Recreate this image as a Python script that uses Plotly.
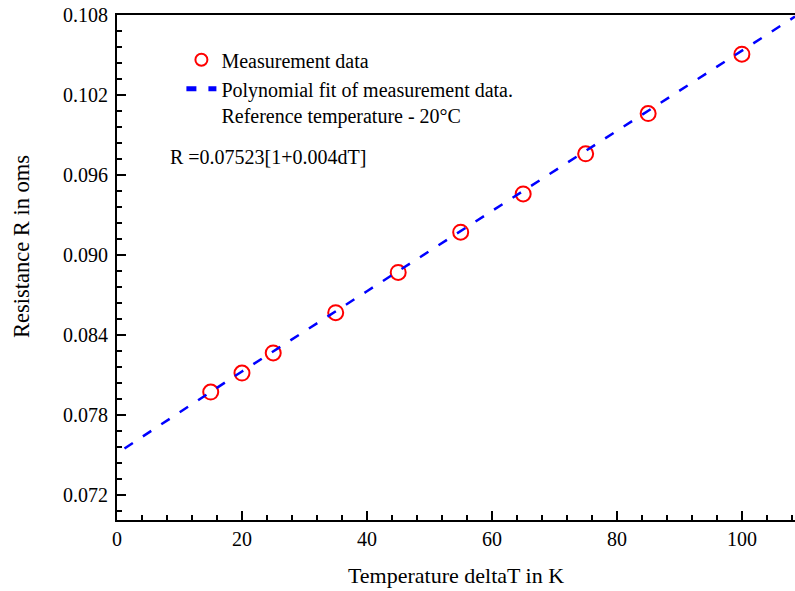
import plotly.graph_objects as go

dT_meas = [15, 20, 25, 35, 45, 55, 65, 75, 85, 100]
R_meas = [0.07970, 0.08113, 0.08264, 0.08566, 0.08868, 0.09170, 0.09457, 0.09758, 0.10060, 0.10506]

# Polynomial fit line
dT_fit = [1.2, 20, 40, 60, 80, 100, 108.5]
R_fit = [0.07547, 0.08125, 0.08727, 0.09329, 0.09930, 0.10532, 0.10788]

x_ticks = [0, 20, 40, 60, 80, 100]
y_ticks = [0.072, 0.078, 0.084, 0.090, 0.096, 0.102, 0.108]

FONT = "Liberation Serif"

fig = go.Figure()
fig.add_trace(go.Scatter(
    x=dT_meas, y=R_meas, mode="markers", name="Measurement data",
    marker=dict(symbol="circle-open", size=15, color="#ff0000",
                line=dict(width=2, color="#ff0000")),
))
fig.add_trace(go.Scatter(
    x=dT_fit, y=R_fit, mode="lines",
    name="Polynomial fit of measurement data.<br>Reference temperature - 20°C",
    line=dict(color="#0000ff", width=2.5, dash="10px,12px"),
))

axis_common = dict(
    showline=True, linewidth=2, linecolor="black",
    ticks="inside", ticklen=9, tickwidth=2, tickcolor="black",
    showgrid=False, zeroline=False,
    tickfont=dict(family=FONT, size=20, color="black"),
    title_font=dict(family=FONT, size=22, color="black"),
)

fig.update_xaxes(
    range=[0, 108.5], tickvals=x_ticks, ticktext=[str(v) for v in x_ticks],
    mirror=True,
    minor=dict(dtick=4, tick0=0, ticks="inside", ticklen=5, tickwidth=2, tickcolor="black"),
    title=dict(text="Temperature deltaT in K", standoff=19),
    **axis_common,
)
fig.update_yaxes(
    range=[0.0701, 0.108], tickvals=y_ticks, ticktext=[f"{v:.3f}" for v in y_ticks],
    minor=dict(dtick=0.0012, tick0=0.072, ticks="inside", ticklen=5, tickwidth=2, tickcolor="black"),
    ticklabelstandoff=3,
    **axis_common,
)

fig.add_annotation(
    text="Resistance R in oms", xref="paper", yref="paper",
    x=-0.1400, y=0.5406, xanchor="center", yanchor="middle", textangle=-90,
    showarrow=False, font=dict(family=FONT, size=22.5, color="black"),
)
fig.add_annotation(
    text="R =0.07523[1+0.004dT]", xref="paper", yref="paper",
    x=0.0752, y=0.719, xanchor="left", yanchor="middle",
    showarrow=False, font=dict(family=FONT, size=20, color="black"),
)

fig.update_layout(
    width=795, height=591,
    margin=dict(l=117, r=0, t=15, b=71),
    paper_bgcolor="white", plot_bgcolor="white",
    font=dict(family=FONT, size=20, color="black"),
    showlegend=True,
    legend=dict(
        x=0.095, y=0.950, xanchor="left", yanchor="top",
        bgcolor="rgba(0,0,0,0)", borderwidth=0,
        font=dict(family=FONT, size=20, color="black"),
        valign="top", itemsizing="constant",
    ),
)

fig.write_html("out.html")
